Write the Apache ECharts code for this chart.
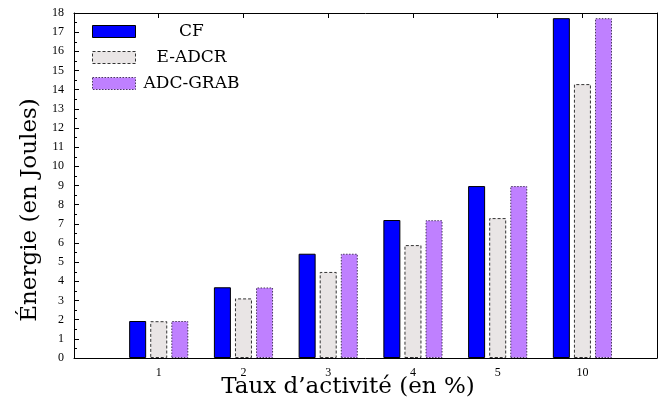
<!DOCTYPE html>
<html>
<head>
<meta charset="utf-8">
<script src="https://cdn.jsdelivr.net/npm/echarts@6/dist/echarts.min.js"></script>
<style>html,body{margin:0;padding:0;background:#fff}#c{width:660px;height:405px}</style>
</head>
<body>
<div id="c"></div>
<script>
const categories = ['1', '2', '3', '4', '5', '10'];
const seriesNames = ['CF', 'E-ADCR', 'ADC-GRAB'];
const cfValues = [1.93, 3.69, 5.44, 7.20, 8.97, 17.73];
const eadcrValues = [1.92, 3.11, 4.49, 5.89, 7.30, 14.29];
const adcgrabValues = [1.93, 3.68, 5.44, 7.19, 8.97, 17.73];
const yTickMin = 0, yTickMax = 18, yTickStep = 1;

const FONT = 'Liberation Serif';
const TFONT = 'DejaVu Serif';
const toPairs = vals => vals.map((v, i) => [i + 1, v]);
const styles = [
  { color: '#0000ff', borderColor: '#000000', borderWidth: 1, borderType: 'solid' },
  { color: '#e9e5e5', borderColor: '#333333', borderWidth: 1, borderType: [3, 2] },
  { color: '#bf80ff', borderColor: '#4a3a5e', borderWidth: 1, borderType: [1.5, 1.5] }
];
const allValues = [cfValues, eadcrValues, adcgrabValues];

const chart = echarts.init(document.getElementById('c'), null, { renderer: 'canvas' });
chart.setOption({
  animation: false,
  backgroundColor: '#fff',
  grid: { left: 74, right: 1, top: 13, bottom: 47, containLabel: false },
  legend: {
    orient: 'vertical', left: 92, top: 23, padding: 0, itemWidth: 43, itemHeight: 12, itemGap: 9,
    icon: 'rect',
    formatter: n => '{a|' + n + '}',
    textStyle: { fontFamily: TFONT, fontSize: 17, color: '#000', lineHeight: 12,
      rich: { a: { width: 102, align: 'center', fontFamily: TFONT, fontSize: 17, lineHeight: 12, color: '#000' } } },
    data: seriesNames.map((n, i) => ({ name: n, itemStyle: styles[i] }))
  },
  xAxis: [{
    type: 'value', min: 0, max: 6.88, interval: 1, position: 'bottom',
    axisLine: { show: true, onZero: false, lineStyle: { color: '#000', width: 1 } },
    axisTick: { show: true, inside: true, length: 5, lineStyle: { color: '#000' } },
    axisLabel: { fontFamily: FONT, fontSize: 12, color: '#000', margin: 9,
      formatter: v => (v >= 1 && v <= categories.length && Number.isInteger(v)) ? categories[v - 1] : '' },
    splitLine: { show: false }
  }, {
    type: 'value', min: 0, max: 6.88, interval: 1, position: 'top',
    axisLine: { show: true, onZero: false, lineStyle: { color: '#000', width: 1 } },
    axisTick: { show: true, inside: true, length: 5, lineStyle: { color: '#000' } },
    axisLabel: { show: false }, splitLine: { show: false }
  }],
  yAxis: [{
    type: 'value', min: yTickMin, max: yTickMax, interval: yTickStep, position: 'left',
    axisLine: { show: true, onZero: false, lineStyle: { color: '#000', width: 1 } },
    axisTick: { show: true, inside: true, length: 5, lineStyle: { color: '#000' } },
    minorTick: { show: true, splitNumber: 2, length: 3, lineStyle: { color: '#000' } },
    axisLabel: { fontFamily: FONT, fontSize: 12, color: '#000', margin: 10 },
    splitLine: { show: false }
  }, {
    type: 'value', min: yTickMin, max: yTickMax, interval: yTickStep, position: 'right',
    axisLine: { show: true, onZero: false, lineStyle: { color: '#000', width: 1 } },
    axisTick: { show: false }, axisLabel: { show: false }, splitLine: { show: false }
  }],
  graphic: [
    { type: 'text', x: 348, y: 387, style: { text: 'Taux d\u2019activité (en %)', fontFamily: TFONT, fontSize: 23, fill: '#000', align: 'center', verticalAlign: 'middle' } },
    { type: 'text', x: 30, y: 210, rotation: Math.PI / 2, style: { text: 'Énergie (en Joules)', fontFamily: TFONT, fontSize: 23, fill: '#000', align: 'center', verticalAlign: 'middle' } }
  ],
  series: seriesNames.map((n, i) => ({
    name: n, type: 'bar', xAxisIndex: 0, yAxisIndex: 0,
    barWidth: 17, barGap: '24%',
    itemStyle: styles[i],
    data: toPairs(allValues[i])
  }))
});
</script>
</body>
</html>
